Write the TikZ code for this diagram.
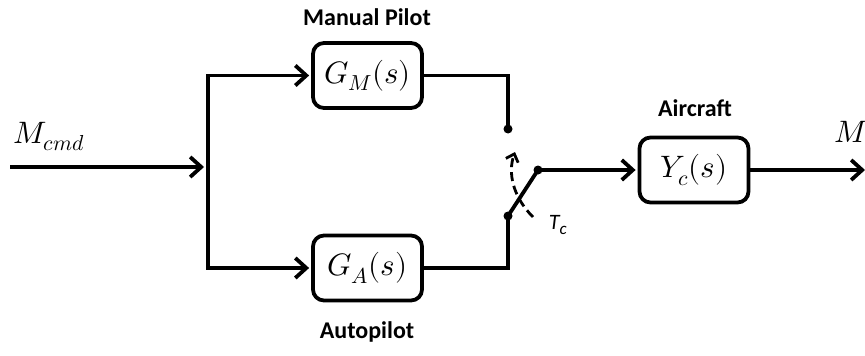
\documentclass[tikz,border=0pt]{standalone}
\usepackage{fontspec}
\usepackage{unicode-math}
\setmainfont{Carlito}
\setmathfont{Latin Modern Math}
\usetikzlibrary{arrows.meta}
\begin{document}
\begin{tikzpicture}[x=1pt,y=-1pt,line width=3.8pt,line join=miter,
  blk/.style={draw,rounded corners=11pt,minimum width=109pt,minimum height=65pt,inner sep=0pt,font=\fontsize{31}{31}\selectfont},
  lbl/.style={font=\fontsize{24}{24}\selectfont\bfseries},
  mathlbl/.style={font=\fontsize{31}{31}\selectfont,anchor=base west,inner sep=0pt},
  arr/.style={-{Straight Barb[length=11pt,width=20pt,line width=3.8pt]}},
  dotc/.style={fill=black}]
\useasboundingbox (0,0) rectangle (865,356);
% blocks
\node[blk] (gm) at (367.5,75.5) {$G_M(s)$};
\node[blk] (ga) at (367.5,268) {$G_A(s)$};
\node[blk] (yc) at (694,170) {$Y_c(s)$};
% labels
\node[lbl] (lm) at (367,17) {Manual Pilot};
\node[lbl] (la) at (367,332) {Autopilot};
\node[lbl] (lc) at (695,108) {Aircraft};
\node[mathlbl] (mcmd) at (12,143) {$M_{cmd}$};
\node[mathlbl] (mout) at (833,142) {$M$};
% coordinates
\coordinate (in) at (10,167);
\coordinate (jm) at (208,167);
\coordinate (pt) at (508,129);
\coordinate (pb) at (508,216);
\coordinate (pole) at (538,170);
\coordinate (out) at (865,170);
\coordinate (ds) at (533,217);
\coordinate (de) at (515,152);
% connectors
\draw[arr,shorten >=4pt] (in) -- (jm);
\draw[arr,shorten >=2pt] (jm) |- (gm.west);
\draw[arr,shorten >=2pt] (jm) |- (ga.west);
\draw (gm.east) -| (pt);
\draw (ga.east) -| (pb);
\draw (pb) -- (pole);
\draw[arr,shorten >=2pt] (pole) -- (yc.west);
\draw[arr] (yc.east) -- (out);
\fill[dotc] (pt) circle (4.5pt);
\fill[dotc] (pb) circle (4.5pt);
\fill[dotc] (pole) circle (4.5pt);
% switch actuation
\draw[line width=2.8pt,dash pattern=on 9pt off 5pt,-{Straight Barb[length=7pt,width=13pt,line width=2.8pt]}]
  (ds) .. controls (512,196) and (508,172) .. (de);
\node[font=\fontsize{22}{22}\selectfont\itshape,anchor=base west,inner sep=0pt] (tc) at (547,229) {T\raisebox{-5pt}{\fontsize{17}{17}\selectfont c}};
\end{tikzpicture}
\end{document}
